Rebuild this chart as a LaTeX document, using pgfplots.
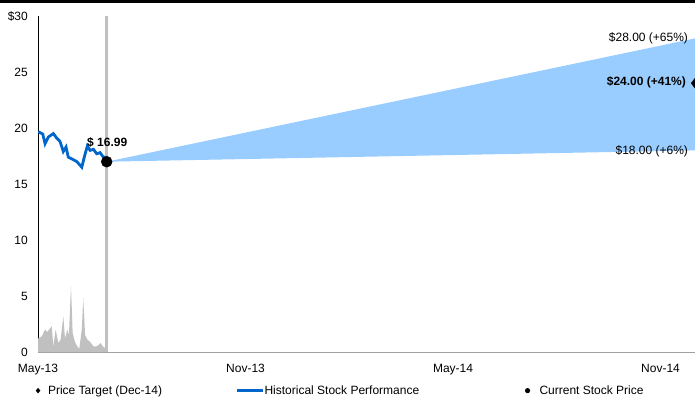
\documentclass[border=0pt]{standalone}
\usepackage{pgfplots}
\pgfplotsset{compat=1.18}
\usepackage{fontspec}
\setmainfont{Liberation Sans}
\definecolor{bandblue}{HTML}{99CCFF}
\definecolor{lineblue}{HTML}{0066CC}
\definecolor{volgray}{HTML}{C0C0C0}
\definecolor{axgray}{HTML}{A0A0A0}
\pgfplotsset{
  imgdiamond/.style={legend image code/.code={\path[draw=none,fill=none] (-4pt,0pt) -- (10pt,0pt); \fill[black,draw=none] (0pt,2.8pt) -- (2.3pt,0pt) -- (0pt,-2.8pt) -- (-2.3pt,0pt) -- cycle;}},
  imgline/.style={legend image code/.code={\draw[##1] (0pt,0pt) -- (26pt,0pt);}},
  imgdot/.style={legend image code/.code={\path[draw=none,fill=none] (-4pt,0pt) -- (12pt,0pt); \fill[black,draw=none] (0pt,0pt) circle (2.6pt);}},
}
\begin{document}
\fontsize{12}{14}\selectfont
\begin{tikzpicture}
\useasboundingbox (0,0) rectangle (695pt,396pt);
\fill[black] (0,393pt) rectangle (695pt,396pt);
\begin{axis}[
  at={(38pt,44pt)}, anchor=south west,
  scale only axis, width=657pt, height=336pt,
  xmin=0, xmax=3.166, ymin=0, ymax=30,
  axis lines*=left,
  x axis line style={draw=axgray, line width=0.8pt},
  y axis line style={draw=black, line width=0.8pt},
  xtick={0,1,2,3}, xticklabels={May-13,Nov-13,May-14,Nov-14},
  ytick={0,5,10,15,20,25,30}, yticklabels={0,5,10,15,20,25,\$30},
  major tick length=0pt,
  xticklabel style={inner sep=0pt, anchor=north, yshift=-12pt},
  yticklabel style={inner sep=0pt, anchor=east, xshift=-10pt},
  /pgf/number format/assume math mode=true,
  tick label style={font=\fontsize{12}{14}\selectfont},
  legend columns=3,
  legend style={at={(axis description cs:-0.006,-0.115)}, anchor=west,
    draw=none, fill=none, inner sep=0pt, outer sep=0pt,
    column sep=0pt, row sep=0pt,
    nodes={inner sep=0pt, font=\fontsize{12}{14}\selectfont}},
  legend cell align=left,
]
% forecast band
\addplot[fill=bandblue, draw=none, forget plot] coordinates {(0.331,16.99) (3.166,28) (3.166,18)} -- cycle;
% volume
\addplot[fill=volgray, draw=none, forget plot] coordinates {
(0.001,1.2) (0.018,1.4) (0.034,2.0) (0.045,1.8) (0.058,2.1) (0.066,2.3) (0.074,0.5)
(0.085,2.0) (0.098,0.8) (0.109,1.1) (0.122,3.2) (0.130,1.2) (0.141,2.0) (0.149,1.5)
(0.159,5.9) (0.167,1.7) (0.178,0.9) (0.189,0.5) (0.199,0.3) (0.211,2.0) (0.218,4.8)
(0.227,1.5) (0.238,1.1) (0.251,0.9) (0.267,0.5) (0.280,0.5) (0.291,0.6) (0.302,0.8)
(0.312,0.5) (0.328,0.3)} \closedcycle;
% vertical divider
\addplot[volgray, line width=2.5pt, forget plot] coordinates {(0.331,0) (0.331,30)};
% historical stock
\addplot[lineblue, line width=2.8pt, forget plot] coordinates {
(0.001,19.67) (0.023,19.46) (0.034,18.6) (0.050,19.2) (0.074,19.5) (0.090,19.1)
(0.106,18.8) (0.122,17.9) (0.135,18.3) (0.146,17.4) (0.167,17.2) (0.187,17.0)
(0.211,16.5) (0.223,17.4) (0.238,18.4) (0.251,18.0) (0.267,18.1) (0.283,17.7)
(0.299,17.8) (0.315,17.4) (0.323,17.4)};
% current price
\addplot[only marks, mark=*, mark size=5.5pt, black, forget plot] coordinates {(0.331,16.99)};
% price target
\addplot[only marks, mark=diamond*, mark size=5pt, black, forget plot] coordinates {(3.166,24)};
% labels
\node[anchor=west, font=\bfseries\fontsize{12}{14}\selectfont, inner sep=0pt] at (axis cs:0.236,18.75) {\$ 16.99};
\node[anchor=east, inner sep=0pt] at (axis cs:3.133,28.04) {\$28.00 (+65\%)};
\node[anchor=east, font=\bfseries\fontsize{12}{14}\selectfont, inner sep=0pt] at (axis cs:3.123,24.1) {\$24.00 (+41\%)};
\node[anchor=east, inner sep=0pt] at (axis cs:3.133,17.95) {\$18.00 (+6\%)};
% legend
\addlegendimage{black, imgdiamond}
\addlegendentry{\makebox[188pt][l]{Price Target (Dec-14)}}
\addlegendimage{lineblue, line width=2.5pt, imgline}
\addlegendentry{\makebox[259pt][l]{Historical Stock Performance}}
\addlegendimage{black, imgdot}
\addlegendentry{Current Stock Price}
\end{axis}
\end{tikzpicture}
\end{document}
